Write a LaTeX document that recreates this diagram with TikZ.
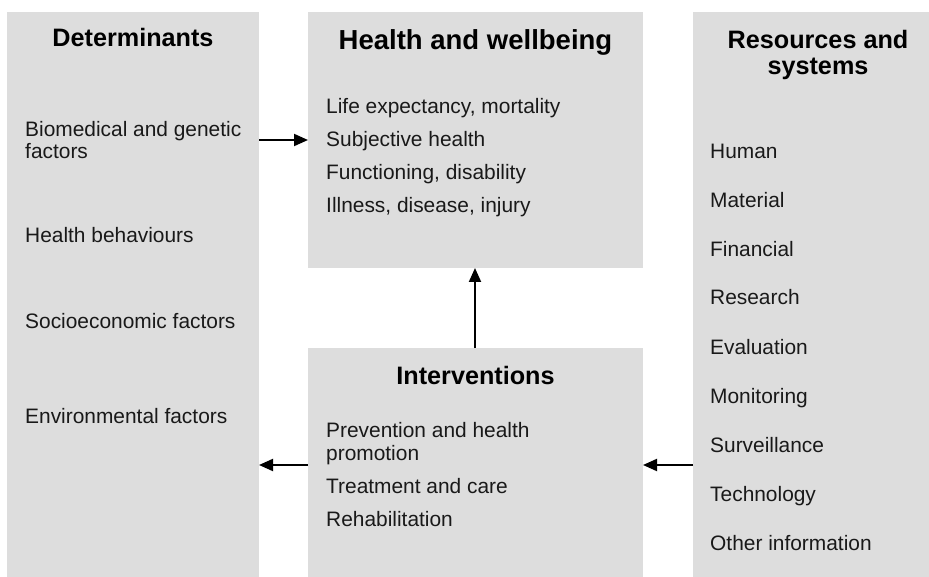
\documentclass[tikz,border=0pt]{standalone}
\usepackage{fontspec}
\setmainfont{Liberation Sans}
\usetikzlibrary{arrows.meta}
\definecolor{panel}{RGB}{221,221,221}
\definecolor{ink}{RGB}{25,25,25}
\begin{document}
\begin{tikzpicture}[x=1pt,y=-1pt,
  panelbox/.style={fill=panel, draw=none, inner sep=0pt, outer sep=0pt, anchor=north west},
  heading/.style={font=\bfseries\fontsize{25.2}{26.5}\selectfont, align=center, anchor=base, inner sep=0pt, text=black},
  bigheading/.style={heading, font=\bfseries\fontsize{27.5}{29}\selectfont},
  item/.style={font=\fontsize{20.9}{22.5}\selectfont, align=left, anchor=base west, inner sep=0pt, text=ink},
  flow/.style={line width=2pt, -{Triangle[length=14pt,width=12pt]}}]
\useasboundingbox (0,0) rectangle (929,577);

% panels
\node[panelbox, minimum width=252pt, minimum height=565pt] (det) at (7,12) {};
\node[panelbox, minimum width=335pt, minimum height=256pt] (hw) at (308,12) {};
\node[panelbox, minimum width=335pt, minimum height=229pt] (intv) at (308,348) {};
\node[panelbox, minimum width=236pt, minimum height=565pt] (res) at (693,12) {};

% headings (multi-line nodes sit on the baseline of their last line)
\node[heading] (detT) at (133,47) {Determinants};
\node[bigheading] (hwT) at (475.5,50) {Health and wellbeing};
\node[heading] (intvT) at (475.5,384) {Interventions};
\node[heading] (resT) at (818,75) {Resources and\\systems};

% determinants
\node[item] (bio) at (25,159) {Biomedical and genetic\\factors};
\node[item] (beh) at (25,243) {Health behaviours};
\node[item] (soc) at (25,328) {Socioeconomic factors};
\node[item] (env) at (25,423) {Environmental factors};

% health and wellbeing
\node[item] (life) at (326,114) {Life expectancy, mortality};
\node[item] (subj) at (326,147) {Subjective health};
\node[item] (func) at (326,180) {Functioning, disability};
\node[item] (ill)  at (326,213) {Illness, disease, injury};

% interventions
\node[item] (prev) at (326,460) {Prevention and health\\promotion};
\node[item] (treat) at (326,493) {Treatment and care};
\node[item] (rehab) at (326,526) {Rehabilitation};

% resources and systems
\node[item] (r1) at (710,159) {Human};
\node[item] (r2) at (710,208) {Material};
\node[item] (r3) at (710,257) {Financial};
\node[item] (r4) at (710,305) {Research};
\node[item] (r5) at (710,354) {Evaluation};
\node[item] (r6) at (710,403) {Monitoring};
\node[item] (r7) at (710,452) {Surveillance};
\node[item] (r8) at (710,501) {Technology};
\node[item] (r9) at (710,550) {Other information};

% connectors
\draw[flow] (det.east |- 0,140) -- (hw.west |- 0,140);
\draw[flow] (intv.north -| 475,0) -- (hw.south -| 475,0);
\draw[flow] (intv.west |- 0,465) -- (det.east |- 0,465);
\draw[flow] (res.west |- 0,465) -- (intv.east |- 0,465);
\end{tikzpicture}
\end{document}
